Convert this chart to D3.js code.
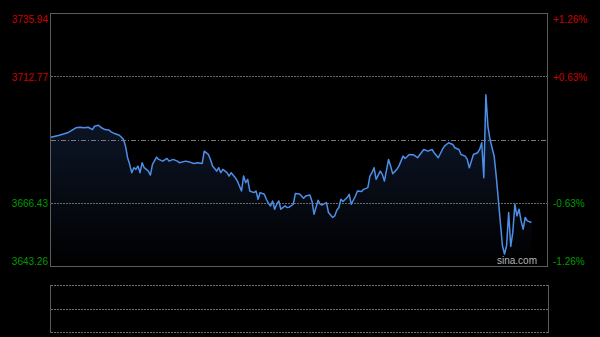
<!DOCTYPE html>
<html>
<head>
<meta charset="utf-8">
<script src="https://cdn.jsdelivr.net/npm/d3@7"></script>
<style>
  body { margin: 0; background: #000; }
  svg { display: block; }
</style>
</head>
<body>
<div id="chart-area"></div>
<script>
const prevClose = 3689.60;
const priceTicks = [3735.94, 3712.77, 3666.43, 3643.26];
const watermark = "sina.com";

// minute of the session (0..240) and index price
const minutes = [0, 4, 8, 12, 14, 16, 18, 20, 21, 23, 24, 26, 28, 29, 31, 33, 34, 35, 36, 37,
  38, 39, 40, 41, 42, 43, 44, 45, 47, 48, 49, 51, 52, 54, 56, 57, 59, 61, 62, 65,
  67, 69, 71, 73, 74, 76, 77, 78, 80, 81, 82, 83, 85, 86, 87, 89, 90, 92, 93, 94,
  95, 96, 98, 99, 100, 101, 103, 104, 105, 106, 107, 108, 109, 110, 111, 113, 114, 115, 117, 118,
  120, 122, 123, 125, 126, 127, 129, 130, 131, 133, 134, 136, 137, 138, 139, 140, 141, 143, 144, 145,
  147, 148, 150, 151, 153, 154, 155, 156, 157, 159, 160, 161, 163, 164, 165, 167, 168, 169, 170, 171,
  173, 175, 176, 177, 180, 182, 184, 185, 187, 189, 190, 192, 194, 195, 197, 198, 200, 201, 202, 203,
  204, 206, 207, 208, 209, 210, 211, 212, 213, 214, 215, 216, 217, 218, 219, 220, 221, 222, 223, 224,
  225, 226, 227, 228, 229, 230, 232];

const prices = [3690.44, 3691.17, 3692.04, 3693.87, 3694.09, 3693.87, 3694.09, 3693.25, 3694.45, 3694.82,
  3694.09, 3693.25, 3693.10, 3692.41, 3691.68, 3691.17, 3690.44, 3689.60, 3687.16, 3682.92,
  3680.48, 3677.45, 3679.27, 3678.65, 3679.86, 3677.45, 3681.10, 3679.27, 3678.03, 3676.57,
  3680.48, 3683.14, 3682.30, 3681.68, 3682.67, 3681.68, 3682.30, 3681.68, 3681.10, 3681.68,
  3681.32, 3680.84, 3681.10, 3680.84, 3685.33, 3684.13, 3682.30, 3679.86, 3678.03, 3679.27,
  3677.45, 3678.65, 3677.45, 3676.21, 3677.45, 3675.62, 3674.38, 3670.73, 3676.21, 3673.80,
  3675.00, 3670.73, 3670.15, 3670.73, 3667.71, 3670.15, 3669.53, 3667.71, 3666.25, 3665.26,
  3667.09, 3664.06, 3665.88, 3667.09, 3664.06, 3665.26, 3664.68, 3664.79, 3665.88, 3669.79,
  3669.60, 3668.07, 3668.91, 3669.28, 3667.09, 3662.23, 3667.34, 3665.88, 3665.63, 3666.50,
  3662.85, 3661.03, 3661.61, 3663.69, 3664.68, 3667.71, 3666.87, 3668.33, 3669.53, 3665.88,
  3668.91, 3670.73, 3670.52, 3671.35, 3671.98, 3676.21, 3677.45, 3679.27, 3675.00, 3678.03,
  3676.83, 3674.38, 3682.30, 3679.86, 3677.08, 3678.65, 3679.86, 3681.68, 3683.51, 3682.67,
  3684.13, 3684.00, 3683.51, 3682.92, 3685.95, 3685.33, 3685.95, 3684.75, 3682.92, 3685.95,
  3687.16, 3688.40, 3687.78, 3686.57, 3685.95, 3684.13, 3683.51, 3682.30, 3679.27, 3681.68,
  3684.13, 3684.75, 3685.95, 3688.40, 3675.62, 3706.02, 3694.45, 3689.60, 3686.57, 3683.51,
  3676.21, 3667.71, 3659.20, 3650.67, 3647.64, 3650.67, 3662.85, 3650.40, 3655.56, 3665.88,
  3661.61, 3664.06, 3659.79, 3656.76, 3661.03, 3659.79, 3659.20];

const canvasWidth = 600;
const canvasHeight = 337;
const plot = {left: 51, top: 13, right: 548, bottom: 266};
const volPanel = {top: 285, bottom: 332};

const labelFont = "'Liberation Sans', Arial, sans-serif";
const upColor = "#cc0000";
const downColor = "#009a00";

const canvas = d3.select("#chart-area").append("svg")
  .attr("width", canvasWidth).attr("height", canvasHeight)
  .style("background", "#000");

const scaleX = d3.scaleLinear().domain([0, 240]).range([plot.left, plot.right]);
const scaleY = d3.scaleLinear().domain(d3.extent(priceTicks)).range([plot.bottom, plot.top]);

const grad = canvas.append("defs").append("linearGradient")
  .attr("id", "areaFill")
  .attr("gradientUnits", "userSpaceOnUse")
  .attr("x1", 0).attr("x2", 0).attr("y1", plot.top).attr("y2", plot.bottom);
grad.append("stop").attr("offset", "0%").attr("stop-color", "#13223d");
grad.append("stop").attr("offset", "55%").attr("stop-color", "#0a111f");
grad.append("stop").attr("offset", "100%").attr("stop-color", "#000");

const series = minutes.map((m, i) => ({m: m, p: prices[i]}));

// area under the line
canvas.append("path")
  .datum(series)
  .attr("fill", "url(#areaFill)")
  .attr("d", d3.area().x(d => scaleX(d.m)).y0(plot.bottom).y1(d => scaleY(d.p)));

// dotted grid lines
priceTicks.slice(1, -1).forEach(v => {
  canvas.append("line")
    .attr("x1", plot.left).attr("x2", plot.right)
    .attr("y1", Math.round(scaleY(v)) + 0.5).attr("y2", Math.round(scaleY(v)) + 0.5)
    .attr("stroke", "#6a6a6a").attr("stroke-dasharray", "2,1");
});

// previous close, dash-dot
canvas.append("line")
  .attr("x1", plot.left).attr("x2", plot.right)
  .attr("y1", Math.round(scaleY(prevClose)) + 0.5).attr("y2", Math.round(scaleY(prevClose)) + 0.5)
  .attr("stroke", "#7a7a7a").attr("stroke-dasharray", "5,2,1,2");

// price line
canvas.append("path")
  .datum(series)
  .attr("fill", "none")
  .attr("stroke", "#4d8fe8")
  .attr("stroke-width", 1.5)
  .attr("stroke-linejoin", "round")
  .attr("d", d3.line().x(d => scaleX(d.m)).y(d => scaleY(d.p)));

// frame
canvas.append("rect")
  .attr("x", plot.left - 0.5).attr("y", plot.top + 0.5)
  .attr("width", plot.right - plot.left).attr("height", plot.bottom - plot.top)
  .attr("fill", "none").attr("stroke", "#5c5c5c");

const tickColor = v => v >= prevClose ? upColor : downColor;
const pctFormat = v => {
  const pct = (v - prevClose) / prevClose * 100;
  return (pct > 0 ? "+" : "") + pct.toFixed(2) + "%";
};
const shiftLabel = (v, i) => i === 0 ? "0.95em" : (i === priceTicks.length - 1 ? "-0.2em" : "0.38em");

const yAxisLeft = d3.axisLeft(scaleY).tickValues(priceTicks).tickSize(0).tickPadding(3)
  .tickFormat(d3.format(".2f"));
const leftG = canvas.append("g").attr("transform", `translate(${plot.left}, 0)`).call(yAxisLeft);

const yAxisRight = d3.axisRight(scaleY).tickValues(priceTicks).tickSize(0).tickPadding(5)
  .tickFormat(pctFormat);
const rightG = canvas.append("g").attr("transform", `translate(${plot.right}, 0)`).call(yAxisRight);

[leftG, rightG].forEach(g => {
  g.select(".domain").remove();
  g.selectAll("text")
    .attr("font-family", labelFont)
    .attr("font-size", "10px")
    .attr("fill", d => tickColor(d))
    .attr("dy", shiftLabel);
});

canvas.append("text")
  .attr("x", 537).attr("y", 264)
  .attr("text-anchor", "end")
  .attr("font-family", labelFont).attr("font-size", "10px")
  .attr("fill", "#b5b5b5")
  .text(watermark);

// lower (volume) panel, empty
[plot.left - 0.5, plot.right + 0.5].forEach(x => {
  canvas.append("line")
    .attr("x1", x).attr("x2", x).attr("y1", volPanel.top).attr("y2", volPanel.bottom + 1)
    .attr("stroke", "#5c5c5c");
});
[volPanel.top, (volPanel.top + volPanel.bottom) / 2, volPanel.bottom].forEach(y => {
  canvas.append("line")
    .attr("x1", plot.left).attr("x2", plot.right)
    .attr("y1", Math.round(y) + 0.5).attr("y2", Math.round(y) + 0.5)
    .attr("stroke", "#707070").attr("stroke-dasharray", "2,1");
});
</script>
</body>
</html>
